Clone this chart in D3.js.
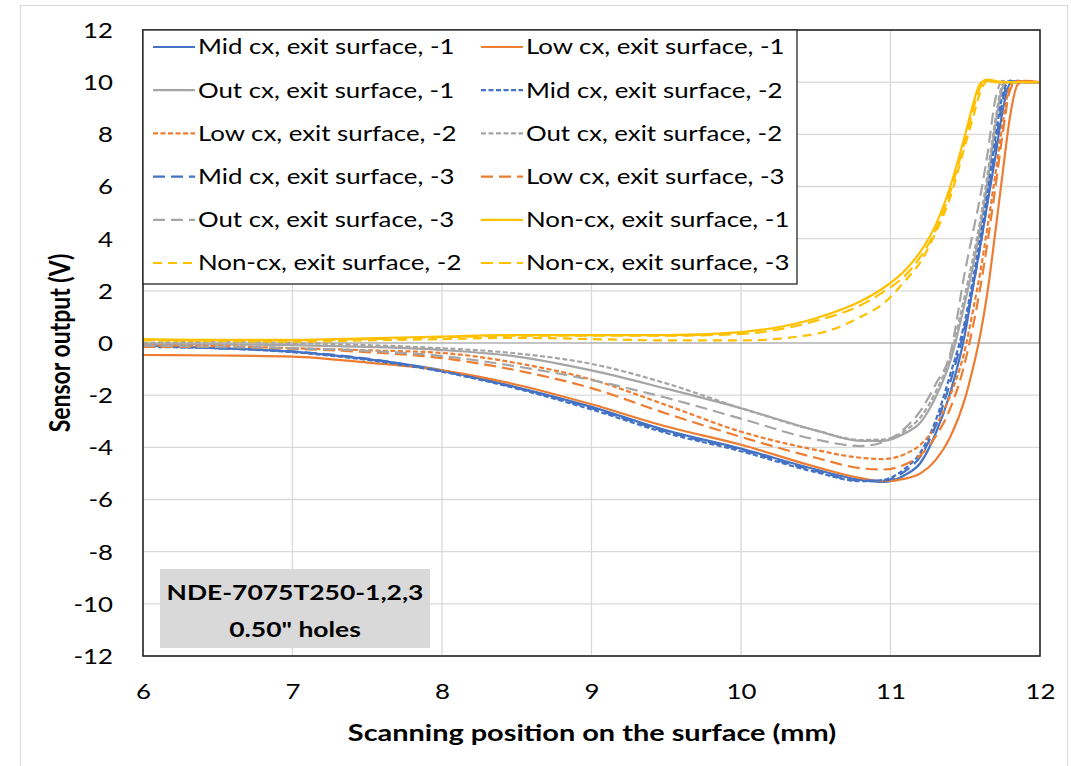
<!DOCTYPE html>
<html>
<head>
<meta charset="utf-8">
<script src="https://cdn.jsdelivr.net/npm/d3@7/dist/d3.min.js"></script>
<style>
body { margin: 0; background: #fff; }
text { font-family: Lato, "Open Sans", sans-serif; fill: #000; }
</style>
</head>
<body>
<script>
// scan positions (mm), shared by every trace
var xPos = [6, 6.5, 7, 7.5, 8, 8.5, 9, 9.5, 10, 10.5, 10.8, 10.95, 11.1, 11.2, 11.3, 11.4, 11.5, 11.55, 11.6, 11.65, 11.7, 11.75, 11.8, 11.85, 11.9, 12];

// sensor output (V)
var midCx1 = [-0.10, -0.20, -0.33, -0.62, -1.05, -1.70, -2.45, -3.35, -4.05, -4.85, -5.25, -5.33, -5.05, -4.60, -3.50, -1.90, 0.40, 2.10, 3.70, 5.40, 7.10, 8.90, 9.95, 10.05, 10.0, 10.0];
var lowCx1 = [-0.46, -0.48, -0.52, -0.75, -1.05, -1.60, -2.35, -3.20, -3.90, -4.75, -5.18, -5.30, -5.20, -5.00, -4.50, -3.60, -2.10, -1.00, 0.30, 2.00, 4.20, 6.50, 8.70, 9.90, 10.05, 10.0];
var outCx1 = [-0.05, -0.05, -0.08, -0.15, -0.27, -0.52, -1.05, -1.75, -2.50, -3.35, -3.75, -3.75, -3.45, -3.05, -2.10, -0.70, 1.60, 2.90, 4.40, 6.20, 8.30, 9.80, 10.05, 10.0, 10.0, 10.0];
var midCx2 = [-0.15, -0.20, -0.35, -0.65, -1.10, -1.75, -2.55, -3.45, -4.15, -4.95, -5.30, -5.25, -4.80, -4.20, -3.00, -1.20, 0.90, 2.40, 4.00, 5.80, 7.80, 9.50, 10.05, 10.0, 10.0, 10.0];
var lowCx2 = [-0.10, -0.12, -0.20, -0.28, -0.38, -0.77, -1.40, -2.38, -3.40, -4.10, -4.40, -4.45, -4.25, -3.90, -3.20, -2.00, -0.20, 1.20, 2.70, 4.50, 6.40, 8.40, 9.85, 10.05, 10.0, 10.0];
var outCx2 = [0.00, 0.05, 0.00, -0.08, -0.20, -0.40, -0.80, -1.55, -2.50, -3.35, -3.72, -3.70, -3.35, -2.85, -1.90, -0.50, 1.90, 3.20, 4.70, 6.50, 8.50, 9.90, 10.05, 10.0, 10.0, 10.0];
var midCx3 = [-0.12, -0.20, -0.32, -0.60, -1.08, -1.72, -2.50, -3.40, -4.10, -4.90, -5.28, -5.28, -4.90, -4.35, -3.20, -1.50, 0.70, 2.10, 3.70, 5.50, 7.50, 9.30, 10.05, 10.0, 10.0, 10.0];
var lowCx3 = [-0.15, -0.15, -0.22, -0.35, -0.58, -1.05, -1.73, -2.70, -3.60, -4.40, -4.80, -4.85, -4.65, -4.30, -3.60, -2.50, -0.70, 0.60, 2.10, 3.90, 5.90, 8.00, 9.70, 10.05, 10.0, 10.0];
var outCx3 = [-0.10, -0.15, -0.20, -0.30, -0.50, -0.90, -1.42, -2.10, -2.90, -3.70, -3.95, -3.80, -3.25, -2.60, -1.60, -0.40, 2.80, 4.20, 5.60, 7.30, 9.30, 10.05, 10.0, 10.0, 10.0, 10.0];
var nonCx1 = [0.15, 0.12, 0.12, 0.18, 0.25, 0.30, 0.30, 0.30, 0.42, 0.95, 1.60, 2.10, 2.80, 3.50, 4.50, 6.00, 8.00, 9.10, 9.95, 10.10, 10.05, 10.0, 10.0, 10.0, 10.0, 10.0];
var nonCx2 = [0.10, 0.08, 0.05, 0.10, 0.15, 0.20, 0.15, 0.10, 0.10, 0.35, 1.00, 1.50, 2.40, 3.10, 4.20, 5.60, 7.60, 8.60, 9.60, 10.05, 10.0, 10.0, 10.0, 10.0, 10.0, 10.0];
var nonCx3 = [0.12, 0.10, 0.10, 0.15, 0.22, 0.28, 0.28, 0.28, 0.35, 0.85, 1.45, 1.95, 2.60, 3.30, 4.30, 5.80, 7.80, 8.90, 9.80, 10.05, 10.0, 10.0, 10.0, 10.0, 10.0, 10.0];

// names in legend order (row by row, two columns)
var seriesNames = ["Mid cx, exit surface, -1", "Low cx, exit surface, -1", "Out cx, exit surface, -1",
    "Mid cx, exit surface, -2", "Low cx, exit surface, -2", "Out cx, exit surface, -2",
    "Mid cx, exit surface, -3", "Low cx, exit surface, -3", "Out cx, exit surface, -3",
    "Non-cx, exit surface, -1", "Non-cx, exit surface, -2", "Non-cx, exit surface, -3"];
var seriesValues = [midCx1, lowCx1, outCx1, midCx2, lowCx2, outCx2, midCx3, lowCx3, outCx3, nonCx1, nonCx2, nonCx3];

var xTicks = [6, 7, 8, 9, 10, 11, 12];
var yTicks = [-12, -10, -8, -6, -4, -2, 0, 2, 4, 6, 8, 10, 12];
var noteLines = ["NDE-7075T250-1,2,3", "0.50\" holes"];

// look of each trace: colour by group, dash by specimen number
var blue = "#4472c4", orange = "#ed7d31", grey = "#a5a5a5", gold = "#ffc000";
var colors = [blue, orange, grey, blue, orange, grey, blue, orange, grey, gold, gold, gold];
var dashes = [null, null, null, "5,2.5", "5,2.5", "5,2.5", "12,6", "12,6", "12,6", null, "9,6", "12,6"];

var width = 1071, height = 766;
var plot = {left: 143, right: 1040, top: 30, bottom: 656};
// the source picture is a bit wider than tall, so its lettering looks stretched
var stretch = 1.23;

var svg = d3.select("body")
    .append("svg")
    .attr("width", width)
    .attr("height", height);

// puts text at (px, py), stretched sideways like the original
function place(px, py) {
    return "translate(" + px + "," + py + ") scale(" + stretch + ",1)";
}

// faint chart border
svg.append("rect")
    .attr("x", 20.5).attr("y", 5.5)
    .attr("width", 1047).attr("height", 800)
    .attr("fill", "none")
    .attr("stroke", "#d9d9d9");

var x = d3.scaleLinear().domain([6, 12]).range([plot.left, plot.right]);
var y = d3.scaleLinear().domain([-12, 12]).range([plot.bottom, plot.top]);

// gridlines
svg.append("g")
    .selectAll("line")
    .data(xTicks)
    .enter()
    .append("line")
    .attr("x1", function(d) { return x(d); })
    .attr("x2", function(d) { return x(d); })
    .attr("y1", plot.top)
    .attr("y2", plot.bottom)
    .attr("stroke", "#d9d9d9")
    .attr("stroke-width", 1.3);
svg.append("g")
    .selectAll("line")
    .data(yTicks)
    .enter()
    .append("line")
    .attr("x1", plot.left)
    .attr("x2", plot.right)
    .attr("y1", function(d) { return y(d); })
    .attr("y2", function(d) { return y(d); })
    .attr("stroke", function(d) { return d == 0 ? "#b0b0b0" : "#d9d9d9"; })
    .attr("stroke-width", 1.3);

// tick labels through d3 axes (plain hyphen for minus), axis lines hidden
var fmt = function(d) { return String(d); };
var xAxis = svg.append("g")
    .attr("transform", "translate(0," + (plot.bottom + 36) + ")")
    .call(d3.axisBottom(x).tickValues(xTicks).tickSize(0).tickFormat(fmt));
var yAxis = svg.append("g")
    .attr("transform", "translate(" + (plot.left - 30) + ",0)")
    .call(d3.axisLeft(y).tickValues(yTicks).tickSize(0).tickFormat(fmt));
[xAxis, yAxis].forEach(function(a) {
    a.select(".domain").remove();
    a.selectAll("text")
        .attr("x", 0)
        .attr("y", 0)
        .attr("transform", "scale(" + stretch + ",1)")
        .attr("font-family", "Lato, 'Open Sans', sans-serif")
        .attr("font-size", 21)
        .attr("fill", "#000")
        .attr("dy", "0.35em");
});

// the traces
var line = d3.line()
    .x(function(d) { return x(d[0]); })
    .y(function(d) { return y(d[1]); })
    .curve(d3.curveMonotoneX);

var traces = seriesValues.map(function(vals, i) {
    return {name: seriesNames[i], color: colors[i], dash: dashes[i],
        pts: vals.map(function(v, j) { return [xPos[j], v]; })};
});

svg.append("clipPath").attr("id", "clip")
    .append("rect")
    .attr("x", plot.left).attr("y", plot.top)
    .attr("width", plot.right - plot.left).attr("height", plot.bottom - plot.top);

svg.append("g")
    .attr("clip-path", "url(#clip)")
    .selectAll("path")
    .data(traces)
    .enter()
    .append("path")
    .attr("d", function(d) { return line(d.pts); })
    .attr("fill", "none")
    .attr("stroke", function(d) { return d.color; })
    .attr("stroke-width", 2.2)
    .attr("stroke-dasharray", function(d) { return d.dash; })
    .attr("stroke-linejoin", "round");

// plot frame
svg.append("rect")
    .attr("x", plot.left).attr("y", plot.top)
    .attr("width", plot.right - plot.left).attr("height", plot.bottom - plot.top)
    .attr("fill", "none")
    .attr("stroke", "#262626")
    .attr("stroke-width", 1.6);

// legend box, two columns
var legend = svg.append("g");
legend.append("rect")
    .attr("x", plot.left).attr("y", plot.top)
    .attr("width", 797 - plot.left).attr("height", 284 - plot.top)
    .attr("fill", "#fff")
    .attr("stroke", "#262626")
    .attr("stroke-width", 1.3);

var item = legend.selectAll("g.item")
    .data(traces)
    .enter()
    .append("g")
    .attr("class", "item")
    .attr("transform", function(d, i) {
        var col = i % 2, row = Math.floor(i / 2);
        return "translate(" + (col == 0 ? 153 : 481) + "," + (47 + row * 43.2) + ")";
    });
item.append("line")
    .attr("x1", 0).attr("x2", 42)
    .attr("stroke", function(d) { return d.color; })
    .attr("stroke-width", 2.2)
    .attr("stroke-dasharray", function(d) { return d.dash; });
item.append("text")
    .attr("transform", place(45, 0))
    .attr("dy", "0.35em")
    .attr("font-size", 21)
    .text(function(d) { return d.name; });

// note box in the lower left
svg.append("rect")
    .attr("x", 160).attr("y", 569)
    .attr("width", 270).attr("height", 79)
    .attr("fill", "#d9d9d9");
svg.selectAll("text.note")
    .data(noteLines)
    .enter()
    .append("text")
    .attr("class", "note")
    .attr("transform", function(d, i) { return place(295, 592 + i * 37); })
    .attr("dy", "0.35em")
    .attr("text-anchor", "middle")
    .attr("font-size", 21.5)
    .attr("font-weight", "bold")
    .text(function(d) { return d; });

// axis titles
svg.append("text")
    .attr("transform", place(592, 733))
    .attr("dy", "0.35em")
    .attr("text-anchor", "middle")
    .attr("font-size", 23.5)
    .attr("font-weight", "bold")
    .text("Scanning position on the surface (mm)");
svg.append("text")
    .attr("transform", "translate(60,343) rotate(-90) scale(1," + stretch + ")")
    .attr("dy", "0.35em")
    .attr("text-anchor", "middle")
    .attr("font-size", 23)
    .attr("font-weight", "bold")
    .text("Sensor output (V)");
</script>
</body>
</html>
